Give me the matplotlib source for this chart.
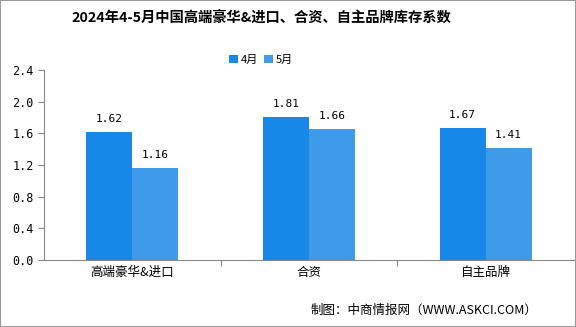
import matplotlib
matplotlib.use("Agg")
import matplotlib.pyplot as plt
import numpy as np

plt.rcParams['font.family'] = ['Noto Sans CJK SC', 'DejaVu Sans']

categories = ['高端豪华&进口', '合资', '自主品牌']
series_names = ['4月', '5月']
apr = [1.62, 1.81, 1.67]
may = [1.16, 1.66, 1.41]
yticks = [0.0, 0.4, 0.8, 1.2, 1.6, 2.0, 2.4]
colors = ['#1787e8', '#3f9be9']

fig = plt.figure(figsize=(5.76, 3.27), dpi=100)
ax = fig.add_axes([44 / 576, 1 - 260 / 327, 530 / 576, 190 / 327])

x = np.arange(len(categories))
w = 0.26
b1 = ax.bar(x - w / 2, apr, w, color=colors[0], label=series_names[0])
b2 = ax.bar(x + w / 2, may, w, color=colors[1], label=series_names[1])
for bars, vals in ((b1, apr), (b2, may)):
    for r, v in zip(bars, vals):
        ax.text(r.get_x() + r.get_width() / 2, v + 0.1, f'{v:.2f}',
                ha='center', va='bottom', fontsize=8, family='DejaVu Sans Mono')

ax.set_xlim(-0.5, 2.5)
ax.set_ylim(0, 2.4)
ax.set_yticks(yticks)
ax.set_yticklabels([f'{t:.1f}' for t in yticks], family='DejaVu Sans Mono', fontsize=8.5)
ax.set_xticks([0.5, 1.5])
ax.set_xticklabels([])
ax.tick_params(axis='x', length=4, color='#888888')
ax.tick_params(axis='y', length=4, color='#888888')
for i, c in enumerate(categories):
    ax.text(i, -0.07, c, ha='center', va='top', fontsize=9)
for s in ('top', 'right'):
    ax.spines[s].set_visible(False)
ax.spines['left'].set_color('#888888')
ax.spines['bottom'].set_color('#888888')

fig.text(261 / 576, 1 - 17 / 327, '2024年4-5月中国高端豪华&进口、合资、自主品牌库存系数',
         ha='center', va='center', fontsize=10.3, fontweight='bold')
ax.legend(loc='center', bbox_to_anchor=((261 - 44) / 530, 1 + 10 / 190), ncol=2,
          frameon=False, fontsize=8, handlelength=0.8, handleheight=0.8,
          handletextpad=0.2, columnspacing=0.6)
fig.text(537 / 576, 1 - 310 / 327, '制图：中商情报网（WWW.ASKCI.COM）',
         ha='right', va='center', fontsize=9)

border = plt.Rectangle((0, 0), 1, 1, transform=fig.transFigure, fill=False,
                       edgecolor='#999999', linewidth=1.5)
fig.patches.append(border)

fig.savefig('out.png', dpi=100)
